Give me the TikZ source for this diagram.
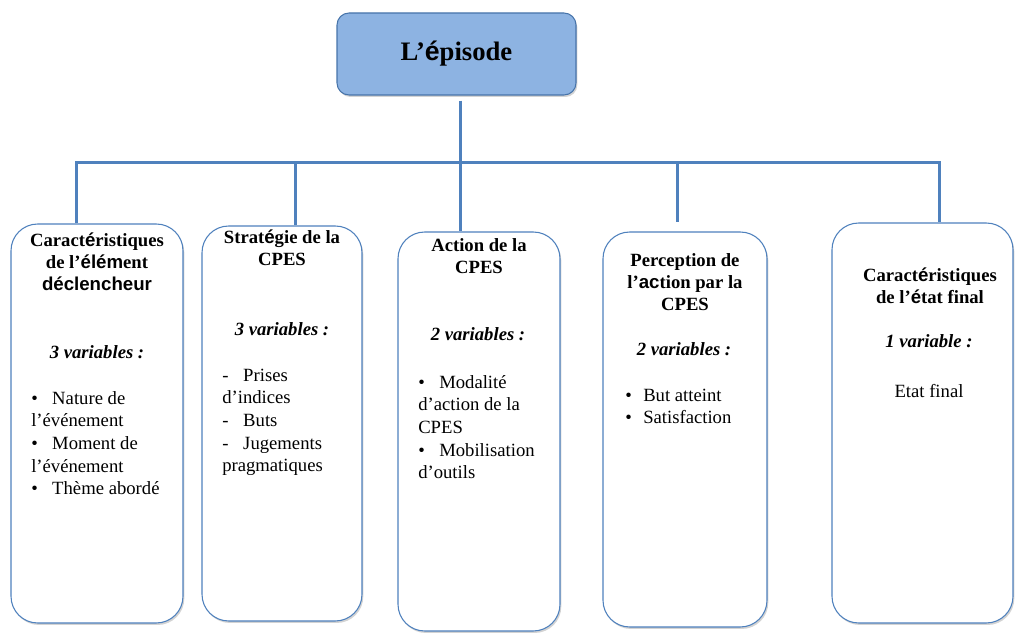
\documentclass[tikz,border=0pt]{standalone}
\usepackage{fontspec}
\setmainfont{Liberation Serif}
\newfontfamily\arialf{Liberation Sans}
\usepackage{tikz}
\usetikzlibrary{positioning,shadows}
\definecolor{linkblue}{HTML}{4F81BD}
\definecolor{topfill}{HTML}{8DB3E2}
\newcommand{\sv}[1]{{\arialf\bfseries #1}}
\newcommand{\bul}{\makebox[15.75pt][l]{\textbullet}}
\newcommand{\dsh}{\makebox[15.75pt][l]{-}}
\tikzset{
  colbox/.style={draw=linkblue, line width=0.8pt, rounded corners=20pt, fill=white, inner sep=0pt,
    drop shadow={shadow xshift=1pt, shadow yshift=-1.5pt, opacity=0.35}},
  link/.style={draw=linkblue, line width=2.25pt},
  head/.style={font=\fontsize{14}{16.5}\selectfont\bfseries, align=center, anchor=base, inner sep=0pt},
  nvar/.style={font=\fontsize{14}{17}\selectfont\bfseries\itshape, anchor=base, inner sep=0pt},
  items/.style={font=\fontsize{14}{17}\selectfont, align=left, anchor=base west, inner sep=0pt},
}
\begin{document}
\begin{tikzpicture}[x=0.75pt,y=-0.75pt]
\useasboundingbox (0,0) rectangle (1015,634);
\node[colbox, fill=topfill, draw=linkblue!90!black, rounded corners=9pt, minimum width=179.25pt, minimum height=61.5pt] (episode) at (456.5,54) {\fontsize{20}{24}\selectfont\bfseries L’\sv{é}pisode};

\foreach \nm/\cx/\cy/\w/\h in {declencheur/97/423.5/129/299.25, strategie/282/423.5/120/296.25,
  action/479/431.5/121.5/299.25, perception/685/429.5/123/296.25, etatfinal/922.5/423/135.75/300}
  \node[colbox, minimum width=\w pt, minimum height=\h pt] (\nm) at (\cx,\cy) {};

\foreach \n/\x in {1/76,2/295,3/460,4/677,5/939}
  \coordinate (b\n) at (\x,163);
\draw[link, shorten <=3.75pt] (b3 |- episode.south) -- (b3);
\draw[link] (b1 |- declencheur.north) -- (b1) -- (b5) -- (b5 |- etatfinal.north);
\draw[link] (b2) -- (b2 |- strategie.north);
\draw[link] (b3) -- (b3 |- action.north);
\draw[link, shorten >=6.75pt] (b4) -- (b4 |- perception.north);

\node[head] (h1) at (97,291) {Caract\sv{é}ristiques\\de l’\sv{élém}ent\\\sv{déclencheur}};
\node[nvar] (v1) at (97,359) {3 variables :};
\node[items] (l1) at (31,495) {\bul Nature de\\l’événement\\\bul Moment de\\l’événement\\\bul Thème abordé};

\node[head] (h2) at (282,266) {Strat\sv{é}gie de la\\CPES};
\node[nvar] (v2) at (282,336) {3 variables :};
\node[items] (l2) at (222,472) {\dsh Prises\\d’indices\\\dsh Buts\\\dsh Jugements\\pragmatiques};

\node[head] (h3) at (479,274) {Action de la\\CPES};
\node[nvar] (v3) at (478,341) {2 variables :};
\node[items] (l3) at (418,479) {\bul Modalité\\d’action de la\\CPES\\\bul Mobilisation\\d’outils};

\node[head] (h4) at (685,311) {Perception de\\l’\sv{ac}tion par la\\CPES};
\node[nvar] (v4) at (684,356) {2 variables :};
\node[items] (l4) at (625,424) {\makebox[13.5pt][l]{\textbullet}But atteint\\\makebox[13.5pt][l]{\textbullet}Satisfaction};

\node[head] (h5) at (930,304) {Caract\sv{é}ristiques\\de l’\sv{é}tat final};
\node[nvar] (v5) at (929,348) {1 variable :};
\node[items, anchor=base] (l5) at (929,398) {Etat final};
\end{tikzpicture}
\end{document}
